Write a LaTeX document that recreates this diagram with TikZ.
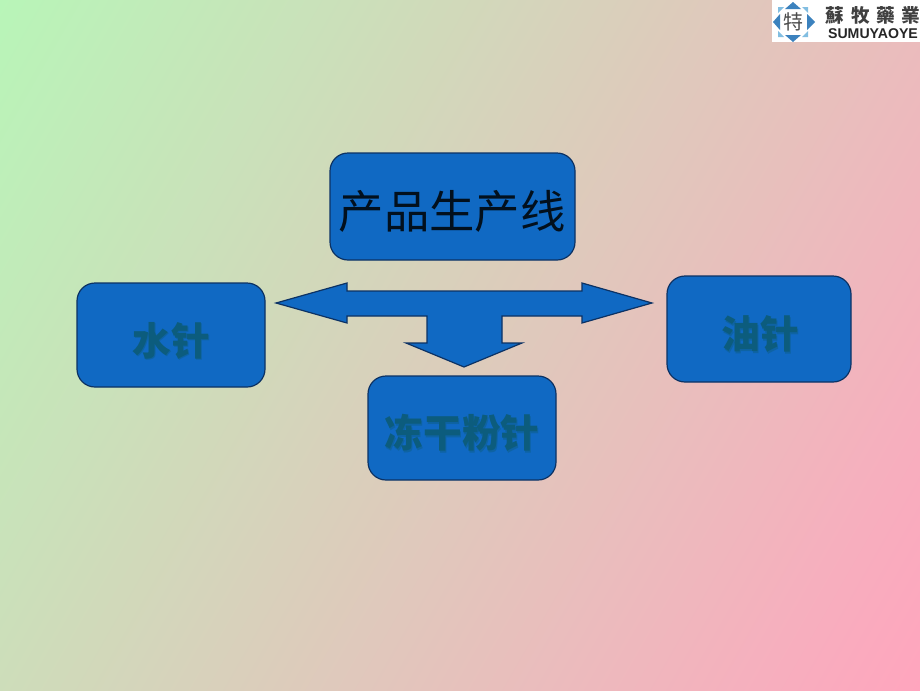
\documentclass[tikz,border=0pt]{standalone}
\usepackage{fontspec}
\newfontfamily\cjk{Noto Sans CJK SC}
\newfontfamily\cjktc{Noto Sans CJK TC}
\setsansfont{Liberation Sans}
\pgfdeclarefunctionalshading{slidebg}{\pgfpoint{0bp}{0bp}}{\pgfpoint{100bp}{100bp}}{}{
  25 sub 50 div exch 25 sub 50 div
  0.7 mul exch 1 exch sub 0.3 mul add
  dup 0.278 mul 0.722 add exch dup -0.314 mul 0.961 add exch 0.025 mul 0.722 add
}
\definecolor{boxblue}{RGB}{16,105,195}
\definecolor{edgeblue}{RGB}{12,50,100}
\definecolor{txtteal}{RGB}{12,92,125}
\definecolor{logoblue}{RGB}{60,130,190}
\definecolor{logolight}{RGB}{130,190,225}
\tikzset{
  x=0.75pt,y=-0.75pt,
  bluebox/.style={draw=edgeblue,line width=0.9pt,fill=boxblue,rounded corners=13.5pt},
  boldlabel/.style={font=\cjk\bfseries\fontsize{29}{29}\selectfont,text=txtteal,inner sep=0pt},
  shadowlabel/.style={font=\cjk\bfseries\fontsize{29}{29}\selectfont,text=txtteal!45!boxblue,inner sep=0pt},
  titlelabel/.style={font=\cjk\fontsize{34}{34}\selectfont,text=black!85!boxblue,inner sep=0pt},
  gem/.style={fill=logoblue},
}
\begin{document}
\begin{tikzpicture}
\useasboundingbox (0,0) rectangle (920,690);
\shade[shading=slidebg] (0,0) rectangle (920,690);
% boxes
\draw[bluebox] (330,153) rectangle (575,260);
\draw[bluebox] (77,283) rectangle (265,387);
\draw[bluebox] (667,276) rectangle (851,382);
\draw[bluebox] (368,376) rectangle (556,480);
% arrow
\draw[draw=edgeblue,line width=0.9pt,fill=boxblue,line join=miter]
 (276,303)--(347,283)--(347,291)--(582,291)--(582,283)--(652,303)--(582,323)--(582,316)--(502,316)--(502,343)--(522,343)--(464,367)--(406,343)--(427,343)--(427,316)--(347,316)--(347,323)--cycle;
% labels
\node[titlelabel] (title) at (452,211) {产品生产线};
\node[shadowlabel] at (172,342) {水针};
\node[boldlabel] (water) at (171,340.5) {水针};
\node[shadowlabel] at (761,335.5) {油针};
\node[boldlabel] (oil) at (760,334) {油针};
\node[shadowlabel] at (463,434.5) {冻干粉针};
\node[boldlabel] (freeze) at (462,433) {冻干粉针};
% logo
\fill[white] (772,0) rectangle (920,42);
\fill[gem] (793,2)--(801,9)--(785,9)--cycle;
\fill[gem] (793,42)--(801,35)--(785,35)--cycle;
\fill[gem] (773,22)--(780,14)--(780,30)--cycle;
\fill[gem] (815,22)--(807,14)--(807,30)--cycle;
\fill[logolight] (778,7)--(784,7)--(778,13)--cycle;
\fill[logolight] (808,7)--(802,7)--(808,13)--cycle;
\fill[logolight] (778,37)--(784,37)--(778,31)--cycle;
\fill[logolight] (808,37)--(802,37)--(808,31)--cycle;
\node[inner sep=0pt,font=\cjktc\fontsize{15}{15}\selectfont,text=black!70] (seal) at (793,22) {特};
\node[inner sep=0pt,font=\cjktc\bfseries\fontsize{14}{15}\selectfont,text=black!75] (cn) at (873,15) {蘇\hspace{5pt}牧\hspace{5pt}藥\hspace{5pt}業};
\node[inner sep=0pt,font=\sffamily\bfseries\fontsize{10.6}{11}\selectfont,text=black!85] (en) at (873,34) {SUMUYAOYE};
\end{tikzpicture}
\end{document}
